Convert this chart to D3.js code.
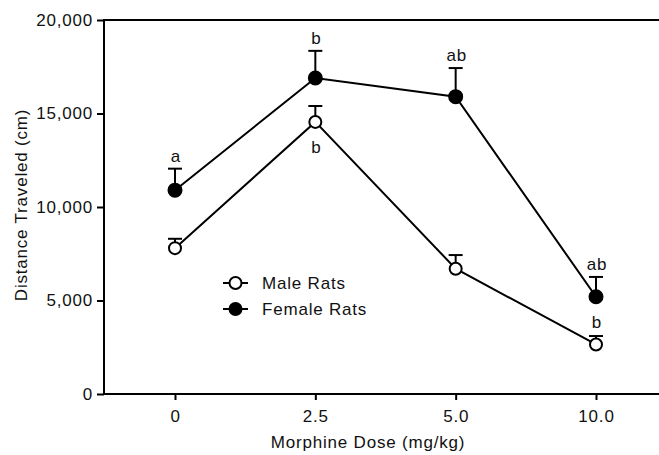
<!DOCTYPE html>
<html lang="en">
<head>
  <meta charset="UTF-8">
  <title>Distance Traveled</title>
  <style>
    body { margin: 0; background: #fff; }
    text { font-family: "Liberation Sans", Arial, Helvetica, sans-serif; font-size: 17px; letter-spacing: 0.8px; fill: #111; }
    .domain, .tick line { stroke: #000; stroke-width: 2px; }
  </style>
</head>
<body>
<div id="chart"></div>
<script src="https://cdn.jsdelivr.net/npm/d3@7"></script>
<script>
// data
let doses = ['0', '2.5', '5.0', '10.0']
let maleMean = [7800, 14550, 6700, 2650]
let maleSem = [500, 850, 730, 450]
let femaleMean = [10900, 16900, 15900, 5200]
let femaleSem = [1150, 1450, 1530, 1060]
let maleLabels = ['', 'b', '', 'b']
let maleLabelSide = ['', 'below', '', 'above']
let femaleLabels = ['a', 'b', 'ab', 'ab']
let yTicks = [0, 5000, 10000, 15000, 20000]

let width = 659
let height = 455
let padLeft = 104
let padTop = 20
let axisY = 394

let svg = d3.select('#chart').append('svg').attr('width', width).attr('height', height)

let x = d3.scalePoint().domain(doses).range([175, 596])
let y = d3.scaleLinear().domain([0, 20000]).range([axisY, padTop])

// frame: top line, axis lines run past the right edge
svg.append('line').attr('x1', padLeft).attr('x2', width + 20).attr('y1', padTop).attr('y2', padTop)
  .attr('stroke', '#000').attr('stroke-width', 2)

let yAxis = d3.axisLeft(y).tickValues(yTicks).tickFormat(d3.format(',')).tickSize(7).tickPadding(4).tickSizeOuter(0)
let gy = svg.append('g').attr('transform', 'translate(' + padLeft + ',0)').call(yAxis)

let xAxis = d3.axisBottom(x).tickSize(6).tickPadding(10).tickSizeOuter(0)
let gx = svg.append('g').attr('transform', 'translate(0,' + axisY + ')').call(xAxis)
gx.select('.domain').attr('d', 'M' + (padLeft - 1) + ',0H' + (width + 20))
gy.select('.domain').attr('d', 'M0,' + (axisY + 1) + 'V' + (padTop - 1))
svg.selectAll('.tick text').attr('font-size', null).attr('font-family', null).attr('fill', '#111')

// axis titles
svg.append('text').attr('x', 368).attr('y', 448).attr('text-anchor', 'middle').text('Morphine Dose (mg/kg)')
svg.append('text').attr('transform', 'translate(27,205) rotate(-90)').attr('text-anchor', 'middle').text('Distance Traveled (cm)')

let line = d3.line().x((d, i) => x(doses[i])).y(d => y(d))

function drawSeries(mean, sem, open) {
  svg.append('path').datum(mean).attr('d', line).attr('fill', 'none').attr('stroke', '#000').attr('stroke-width', 2)
  let g = svg.append('g')
  mean.forEach((m, i) => {
    let cx = x(doses[i])
    g.append('line').attr('x1', cx).attr('x2', cx).attr('y1', y(m)).attr('y2', y(m + sem[i]))
      .attr('stroke', '#000').attr('stroke-width', 2)
    g.append('line').attr('x1', cx - 7).attr('x2', cx + 7).attr('y1', y(m + sem[i])).attr('y2', y(m + sem[i]))
      .attr('stroke', '#000').attr('stroke-width', 2)
  })
  g.selectAll('circle').data(mean).enter().append('circle')
    .attr('cx', (d, i) => x(doses[i])).attr('cy', d => y(d)).attr('r', open ? 6 : 6.5)
    .attr('fill', open ? '#fff' : '#000').attr('stroke', '#000').attr('stroke-width', 2)
}

drawSeries(maleMean, maleSem, true)
drawSeries(femaleMean, femaleSem, false)

// significance letters
femaleLabels.forEach((t, i) => {
  svg.append('text').attr('x', x(doses[i]) + 1).attr('y', y(femaleMean[i] + femaleSem[i]) - 7)
    .attr('text-anchor', 'middle').text(t)
})
maleLabels.forEach((t, i) => {
  if (!t) return
  let ty = maleLabelSide[i] === 'below' ? y(maleMean[i]) + 31 : y(maleMean[i] + maleSem[i]) - 8
  svg.append('text').attr('x', x(doses[i]) + 1).attr('y', ty).attr('text-anchor', 'middle').text(t)
})

// legend
let legend = [['Male Rats', true], ['Female Rats', false]]
legend.forEach((d, i) => {
  let ly = 283 + i * 26
  svg.append('line').attr('x1', 223).attr('x2', 248).attr('y1', ly).attr('y2', ly).attr('stroke', '#000').attr('stroke-width', 2)
  svg.append('circle').attr('cx', 235.5).attr('cy', ly).attr('r', 6)
    .attr('fill', d[1] ? '#fff' : '#000').attr('stroke', '#000').attr('stroke-width', 2)
  svg.append('text').attr('x', 262).attr('y', ly + 6).text(d[0])
})
</script>
</body>
</html>
